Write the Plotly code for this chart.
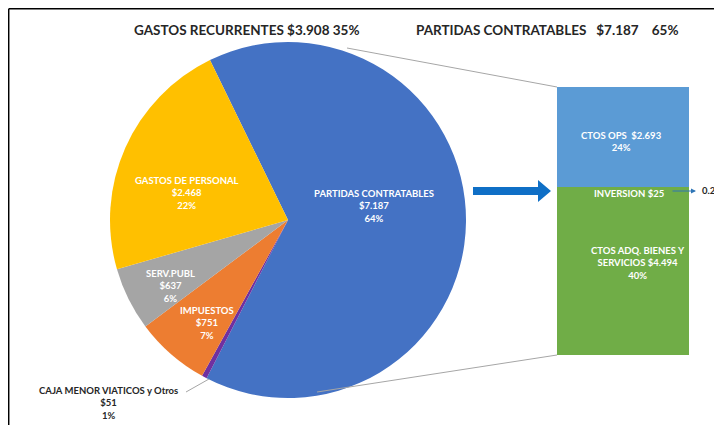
import plotly.graph_objects as go

# ---------------- data ----------------
pie_labels = ["PARTIDAS CONTRATABLES", "CAJA MENOR VIATICOS y Otros", "IMPUESTOS",
              "SERV.PUBL", "GASTOS DE PERSONAL"]
pie_values = [7187, 51, 751, 637, 2468]
pie_pcts = ["64%", "1%", "7%", "6%", "22%"]
pie_colors = ["#4472C4", "#7030A0", "#ED7D31", "#A5A5A5", "#FFC000"]

bar_labels = ["CTOS ADQ. BIENES Y<br>SERVICIOS", "INVERSION", "CTOS OPS "]
bar_values = [4494, 25, 2693]
bar_pcts = ["40%", "0.2%", "24%"]
bar_colors = ["#70AD47", "#70AD47", "#5B9BD5"]

title_left = "GASTOS RECURRENTES $3.908 35%"
title_right = "PARTIDAS CONTRATABLES&nbsp;&nbsp;&nbsp;$7.187&nbsp;&nbsp;&nbsp;&nbsp;65%"

OFF = 8            # page body margin
W, H = 722 - OFF, 425 - OFF
FONT = "Lato"


def money(v):
    return "$" + f"{v:,}".replace(",", ".")


def px(x, y):
    """window pixel -> paper coords"""
    return (x - OFF) / W, 1 - (y - OFF) / H


fig = go.Figure()

# pie
fig.add_trace(go.Pie(
    labels=pie_labels, values=pie_values, sort=False, direction="clockwise",
    rotation=334, marker=dict(colors=pie_colors, line=dict(width=0)),
    textinfo="none", hoverinfo="label+value",
    domain=dict(x=[(110 - OFF) / W, (466 - OFF) / W],
                y=[1 - (398 - OFF) / H, 1 - (42 - OFF) / H]),
    showlegend=False,
))

# stacked bar
for lab, val, col in zip(bar_labels, bar_values, bar_colors):
    fig.add_trace(go.Bar(
        x=["PARTIDAS"], y=[val], name=lab.replace("<br>", " "),
        marker=dict(color=col, line=dict(width=0)),
        xaxis="x", yaxis="y", showlegend=False, width=1,
    ))

annotations = []


def label(txt, x, y, color="white", size=9.5, xanchor="center"):
    ax, ay = px(x, y)
    annotations.append(dict(text=txt, x=ax, y=ay, xref="paper", yref="paper", showarrow=False,
                            xanchor=xanchor, yanchor="middle",
                            font=dict(family=FONT, size=size, color=color)))


# title texts
label("<b>" + title_left + "</b>", 247, 30, color="#262626", size=13.5)
label("<b>" + title_right + "</b>", 547, 30, color="#262626", size=13.5)

# pie labels (white, inside)
pie_label_pos = {0: (374, 206), 2: (207, 323), 3: (170, 286), 4: (187, 193)}
for i, (x, y) in pie_label_pos.items():
    label(f"<b>{pie_labels[i]}<br>{money(pie_values[i])}<br>{pie_pcts[i]}</b>", x, y)

# CAJA MENOR label outside
label(f"<b>{pie_labels[1]}<br>{money(pie_values[1])}<br>{pie_pcts[1]}</b>", 108, 403,
      color="#262626")

# bar labels
label(f"<b>{bar_labels[2]} {money(bar_values[2])}<br>{bar_pcts[2]}</b>", 621, 141)
label(f"<b>{bar_labels[1]} {money(bar_values[1])}</b>", 629, 193)
label(f"<b>{bar_labels[0]} {money(bar_values[0])}<br>{bar_pcts[0]}</b>", 638, 263)

# 0.2% callout with small arrow
tx, ty = px(696, 191)
annotations.append(dict(x=tx, y=ty, ax=-25, ay=0, xref="paper", yref="paper",
                        showarrow=True, text="",
                        arrowhead=2, arrowsize=1, arrowwidth=1, arrowcolor="#2E75B6"))
label(f"<b>{bar_pcts[1]}</b>", 700, 191, color="#262626", xanchor="left")


def P(x, y):
    a, b = px(x, y)
    return f"{a:.5f},{b:.5f}"


def seg(x0, y0, x1, y1, color, width):
    a0, b0 = px(x0, y0)
    a1, b1 = px(x1, y1)
    return dict(type="line", xref="paper", yref="paper", x0=a0, y0=b0, x1=a1, y1=b1,
                line=dict(color=color, width=width))


shapes = [
    seg(8.7, 8.7, 722, 8.7, "#000000", 1.5),
    seg(8.7, 8.7, 8.7, 425, "#000000", 1.5),
    seg(347, 48, 557, 87, "#A6A6A6", 1),
    seg(317, 392, 557, 355, "#A6A6A6", 1),
    seg(186, 392, 209, 379, "#A6A6A6", 1),
]
pts = [(473, 187), (538, 187), (538, 180), (551, 191), (538, 202), (538, 195), (473, 195)]
path = "M" + " L".join(P(x, y) for x, y in pts) + " Z"
shapes.append(dict(type="path", xref="paper", yref="paper", path=path,
                   fillcolor="#0F6FC6", line=dict(width=0)))

fig.update_layout(
    width=W, height=H, margin=dict(l=0, r=0, t=0, b=0),
    paper_bgcolor="white", plot_bgcolor="rgba(0,0,0,0)",
    barmode="stack", bargap=0,
    xaxis=dict(domain=[(557 - OFF) / W, (689 - OFF) / W], visible=False, range=[-0.5, 0.5],
               fixedrange=True),
    yaxis=dict(domain=[1 - (355 - OFF) / H, 1 - (87 - OFF) / H], visible=False,
               range=[0, sum(bar_values)], fixedrange=True),
    annotations=annotations, shapes=shapes,
    font=dict(family=FONT),
)

fig.write_html("out.html")
